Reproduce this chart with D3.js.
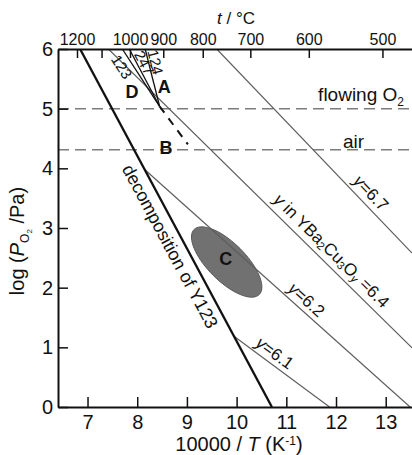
<!DOCTYPE html>
<html>
<head>
<meta charset="utf-8">
<script src="https://cdn.jsdelivr.net/npm/d3@7"></script>
<style>
  html, body { margin: 0; padding: 0; background: #fff; }
  svg { display: block; font-family: "Liberation Sans", Arial, Helvetica, sans-serif; }
</style>
</head>
<body>
<svg id="chart" width="412" height="455"></svg>
<script>
// Axis ticks
const xTicks = [7, 8, 9, 10, 11, 12, 13];
const yTicks = [0, 1, 2, 3, 4, 5, 6];
const tempTicks = [1200, 1100, 1000, 900, 800, 700, 600, 500];
const tempLabels = ["1200", "", "1000", "900", "800", "700", "600", "500"];

// Phase boundaries as [10000/T, log(PO2/Pa)]
const decompositionY123 = [[6.85, 6.0], [10.71, 0.0]];
const boundary123 = [[7.70, 6.0], [8.45, 5.04]];
const boundary247 = [[7.84, 6.0], [8.45, 5.04]];
const boundary124 = [[8.16, 6.0], [8.45, 5.04]];
const boundary123Extension = [[8.45, 5.04], [9.02, 4.40]];

// Oxygen-content isopleths of YBa2Cu3Oy
const isoplethY67 = [[9.60, 6.0], [13.53, 2.58]];
const isoplethY64 = [[7.42, 6.0], [13.53, 0.99]];
const isoplethY62 = [[8.15, 3.98], [13.49, 0.0]];
const isoplethY61 = [[9.94, 1.19], [11.87, 0.0]];

// Reference atmospheres, log(PO2/Pa)
const atmosphereLogP = [5.0, 4.31];

// Processing window C: centre and semi-axes
const regionCCenter = [9.80, 2.43];
const regionCMajor = [0.655, -0.545];
const regionCMinor = [0.27, 0.225];

// Region letters: [label, 10000/T, log(PO2/Pa)]
const regionLetters = [["D", 7.895, 5.28], ["A", 8.543, 5.37], ["B", 8.579, 4.336], ["C", 9.783, 2.48]];

const margin = { top: 49, right: 0, bottom: 48, left: 58 };
const W = 412, H = 455;
const svg = d3.select("#chart");

const x = d3.scaleLinear().domain([6.406, 13.529]).range([margin.left, W - margin.right]);
const y = d3.scaleLinear().domain([0, 6]).range([H - margin.bottom, margin.top]);

svg.append("defs").append("clipPath").attr("id", "plot-clip")
  .append("rect")
  .attr("x", margin.left).attr("y", margin.top)
  .attr("width", W - margin.left - margin.right)
  .attr("height", H - margin.top - margin.bottom);

const plot = svg.append("g").attr("clip-path", "url(#plot-clip)");
const line = d3.line().x(d => x(d[0])).y(d => y(d[1]));

// Reference atmosphere levels
plot.selectAll("line.atm").data(atmosphereLogP).join("line")
  .attr("class", "atm")
  .attr("x1", x.range()[0]).attr("x2", x.range()[1])
  .attr("y1", d => y(d)).attr("y2", d => y(d))
  .attr("stroke", "#7d7d7d").attr("stroke-width", 1.5)
  .attr("stroke-dasharray", "11,6");

// Region C
const ellipsePts = d3.range(0, 73).map(i => {
  const t = i / 72 * 2 * Math.PI;
  return [regionCCenter[0] + regionCMajor[0] * Math.cos(t) + regionCMinor[0] * Math.sin(t),
          regionCCenter[1] + regionCMajor[1] * Math.cos(t) + regionCMinor[1] * Math.sin(t)];
});
plot.append("path")
  .attr("d", d3.line().x(d => x(d[0])).y(d => y(d[1])).curve(d3.curveLinearClosed)(ellipsePts))
  .attr("fill", "#717171").attr("stroke", "#595959").attr("stroke-width", 1);

// Isopleths
[isoplethY67, isoplethY64, isoplethY62, isoplethY61].forEach(seg => {
  plot.append("path").attr("d", line(seg))
    .attr("fill", "none").attr("stroke", "#5e5e5e").attr("stroke-width", 1.2);
});

// Phase boundaries
[boundary123, boundary247, boundary124].forEach(seg => {
  plot.append("path").attr("d", line(seg))
    .attr("fill", "none").attr("stroke", "#111").attr("stroke-width", 1.3);
});
plot.append("path").attr("d", line(boundary123Extension))
  .attr("fill", "none").attr("stroke", "#111").attr("stroke-width", 2)
  .attr("stroke-dasharray", "8,7");
plot.append("path").attr("d", line(decompositionY123))
  .attr("fill", "none").attr("stroke", "#111").attr("stroke-width", 2.3);

// Axes
const bottomAxis = d3.axisBottom(x).tickValues(xTicks).tickFormat(d3.format("d"))
  .tickSize(-10).tickSizeOuter(0).tickPadding(8);
const leftAxis = d3.axisLeft(y).tickValues(yTicks).tickFormat(d3.format("d"))
  .tickSize(-10).tickSizeOuter(0).tickPadding(5);
const topAxis = d3.axisTop(x)
  .tickValues(tempTicks.map(t => 10000 / (t + 273.15)))
  .tickFormat((d, i) => tempLabels[i])
  .tickSize(-9).tickSizeOuter(0).tickPadding(4);

function styleAxis(g, size) {
  g.attr("font-family", "'Liberation Sans', Arial, sans-serif").attr("font-size", size);
  g.select(".domain").attr("stroke", "#111").attr("stroke-width", 2);
  g.selectAll(".tick line").attr("stroke", "#111").attr("stroke-width", 1.5);
  g.selectAll(".tick text").attr("fill", "#111").attr("font-size", size);
}
svg.append("g").attr("transform", `translate(0,${y(0)})`).call(bottomAxis).call(g => styleAxis(g, 20));
svg.append("g").attr("transform", `translate(${x.range()[0]},0)`).call(leftAxis).call(g => styleAxis(g, 20));
const topG = svg.append("g").attr("transform", `translate(0,${y(6)})`).call(topAxis).call(g => styleAxis(g, 16));
topG.selectAll(".tick text").attr("dy", "0em");

// Axis titles
const xTitle = svg.append("text").attr("x", 239).attr("y", 451)
  .attr("text-anchor", "middle").attr("font-size", 20).attr("fill", "#111");
xTitle.append("tspan").text("10000 / ");
xTitle.append("tspan").attr("font-style", "italic").text("T");
xTitle.append("tspan").text(" (K");
xTitle.append("tspan").attr("font-size", 12).attr("dy", -6).text("-1");
xTitle.append("tspan").attr("dy", 6).text(")");

const tTitle = svg.append("text").attr("x", 236).attr("y", 24)
  .attr("text-anchor", "middle").attr("font-size", 17).attr("fill", "#111");
tTitle.append("tspan").attr("font-style", "italic").text("t");
tTitle.append("tspan").text(" / °C");

const yTitle = svg.append("text")
  .attr("transform", `translate(24,241) rotate(-90)`)
  .attr("text-anchor", "middle").attr("font-size", 20).attr("fill", "#111");
yTitle.append("tspan").text("log (");
yTitle.append("tspan").attr("font-style", "italic").text("P");
yTitle.append("tspan").attr("font-size", 12).attr("dy", 5).text("O");
yTitle.append("tspan").attr("font-size", 8).attr("dy", 3).text("2");
yTitle.append("tspan").attr("dy", -8).text(" /Pa)");

// Atmosphere labels
const flowLabel = svg.append("text").attr("x", x(11.64)).attr("y", y(atmosphereLogP[0]) - 8)
  .attr("font-size", 19).attr("fill", "#111");
flowLabel.append("tspan").text("flowing O");
flowLabel.append("tspan").attr("font-size", 12).attr("dy", 5).text("2");
svg.append("text").attr("x", x(12.14)).attr("y", y(atmosphereLogP[1]) - 2)
  .attr("font-size", 19).attr("fill", "#111").text("air");

// Labels laid along a line segment; offset is perpendicular (negative = above)
function lineLabel(seg, xv, offset, size, build) {
  const [a, b] = seg;
  const f = (xv - a[0]) / (b[0] - a[0]);
  const px = x(a[0] + f * (b[0] - a[0]));
  const py = y(a[1] + f * (b[1] - a[1]));
  const ang = Math.atan2(y(b[1]) - y(a[1]), x(b[0]) - x(a[0])) * 180 / Math.PI;
  const t = svg.append("text")
    .attr("transform", `translate(${px},${py}) rotate(${ang})`)
    .attr("y", offset)
    .attr("text-anchor", "middle")
    .attr("dominant-baseline", "central")
    .attr("font-size", size).attr("fill", "#111");
  build(t);
}
function yEquals(value) {
  return t => {
    t.append("tspan").attr("font-style", "italic").text("y");
    t.append("tspan").text("=" + value);
  };
}
lineLabel(isoplethY67, 12.53, -12, 17, yEquals("6.7"));
lineLabel(isoplethY62, 11.26, -11, 17, yEquals("6.2"));
lineLabel(isoplethY61, 10.64, -11, 17, yEquals("6.1"));
lineLabel(isoplethY64, 11.73, -13, 17, t => {
  t.append("tspan").attr("font-style", "italic").text("y");
  t.append("tspan").text(" in YBa");
  t.append("tspan").attr("font-size", 11).attr("dy", 4).text("2");
  t.append("tspan").attr("dy", -4).text("Cu");
  t.append("tspan").attr("font-size", 11).attr("dy", 4).text("3");
  t.append("tspan").attr("dy", -4).text("O");
  t.append("tspan").attr("font-size", 11).attr("font-style", "italic").attr("dy", 4).text("y");
  t.append("tspan").attr("dy", -4).text(" =6.4");
});
lineLabel(decompositionY123, 8.907, 14, 18, t => t.text("decomposition of Y123"));
lineLabel(boundary123, 7.86, 10, 15, t => t.text("123"));
lineLabel(boundary247, 8.02, -7, 15, t => t.text("247"));
lineLabel(boundary124, 8.235, -7, 15, t => t.text("124"));

// Region letters
svg.selectAll("text.region").data(regionLetters).join("text")
  .attr("class", "region")
  .attr("x", d => x(d[1])).attr("y", d => y(d[2]))
  .attr("text-anchor", "middle").attr("dominant-baseline", "central")
  .attr("font-size", 18).attr("font-weight", "bold").attr("fill", "#111")
  .text(d => d[0]);
</script>
</body>
</html>
